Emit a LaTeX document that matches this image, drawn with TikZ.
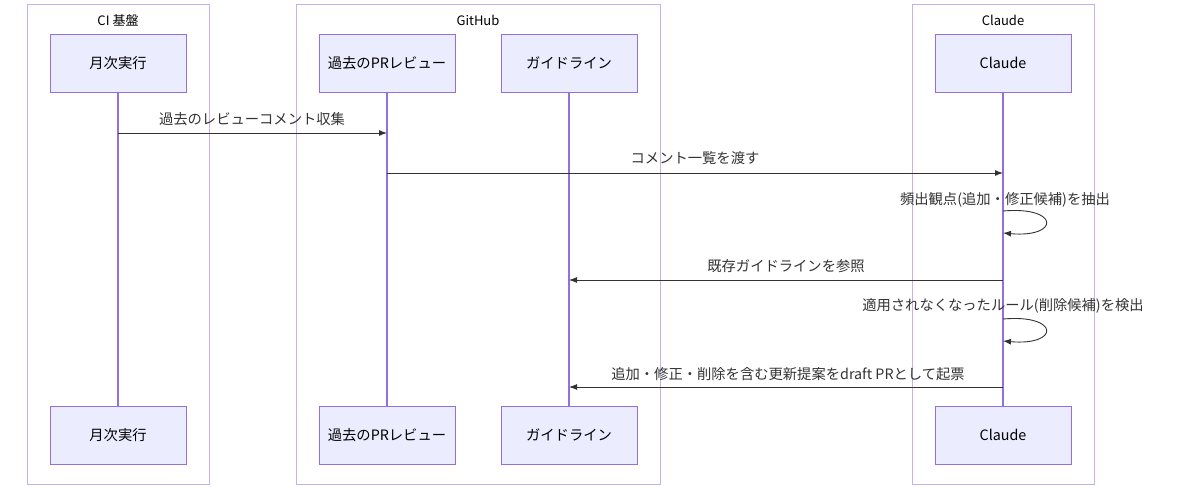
\documentclass[tikz,border=0pt]{standalone}
\usepackage{fontspec}
\setmainfont{Noto Sans CJK JP}
\usetikzlibrary{arrows.meta}
\definecolor{actfill}{HTML}{ECECFF}
\definecolor{actline}{HTML}{9370DB}
\definecolor{grp}{HTML}{C6B0EE}
\definecolor{ink}{HTML}{333333}
\begin{document}
\begin{tikzpicture}[x=1pt,y=-1pt,
  actor/.style={draw=actline,fill=actfill,minimum width=136pt,minimum height=58pt,inner sep=0pt,font=\fontsize{14.3}{16}\selectfont,text=black},
  group/.style={draw=grp,line width=1pt},
  glabel/.style={font=\fontsize{13}{15}\selectfont,text=black},
  life/.style={draw=actline,line width=1.3pt},
  msg/.style={draw=ink,line width=0.9pt,-{Latex[length=8pt,width=6pt]}},
  mlabel/.style={font=\fontsize{14.3}{16}\selectfont,text=ink,inner sep=0pt}]
\useasboundingbox (0,0) rectangle (1200,487);
\draw[group] (27,5) rectangle (209,484);
\draw[group] (296,5) rectangle (660,484);
\draw[group] (912,5) rectangle (1094,484);
\node[glabel] (g1) at (118,20) {CI 基盤};
\node[glabel] (g2) at (478,20) {GitHub};
\node[glabel] (g3) at (1003,20) {Claude};
\node[actor] (a1) at (118,63) {月次実行};
\node[actor] (a2) at (387,63) {過去のPRレビュー};
\node[actor] (a3) at (569,63) {ガイドライン};
\node[actor] (a4) at (1003,63) {Claude};
\node[actor] (b1) at (118,435) {月次実行};
\node[actor] (b2) at (387,435) {過去のPRレビュー};
\node[actor] (b3) at (569,435) {ガイドライン};
\node[actor] (b4) at (1003,435) {Claude};
\foreach \i in {1,2,3,4}{\draw[life] (a\i.south) -- (b\i.north);}
\coordinate (m1s) at (118,133); \coordinate (m1e) at (387,133);
\draw[msg] (m1s) -- (m1e);
\node[mlabel] (l1) at (252,119) {過去のレビューコメント収集};
\coordinate (m2s) at (387,173); \coordinate (m2e) at (1003,173);
\draw[msg] (m2s) -- (m2e);
\node[mlabel] (l2) at (695,158) {コメント一覧を渡す};
\coordinate (m3s) at (1003,211); \coordinate (m3e) at (1003,233);
\draw[msg] (m3s) .. controls (1060,206) and (1060,238) .. (m3e);
\node[mlabel] (l3) at (1005,200) {頻出観点(追加・修正候補)を抽出};
\coordinate (m4s) at (1003,280); \coordinate (m4e) at (569,280);
\draw[msg] (m4s) -- (m4e);
\node[mlabel] (l4) at (786,266) {既存ガイドラインを参照};
\coordinate (m5s) at (1003,319); \coordinate (m5e) at (1003,341);
\draw[msg] (m5s) .. controls (1060,314) and (1060,346) .. (m5e);
\node[mlabel] (l5) at (1003,306) {適用されなくなったルール(削除候補)を検出};
\coordinate (m6s) at (1003,387); \coordinate (m6e) at (569,387);
\draw[msg] (m6s) -- (m6e);
\node[mlabel] (l6) at (788,374) {追加・修正・削除を含む更新提案をdraft PRとして起票};
\end{tikzpicture}
\end{document}
